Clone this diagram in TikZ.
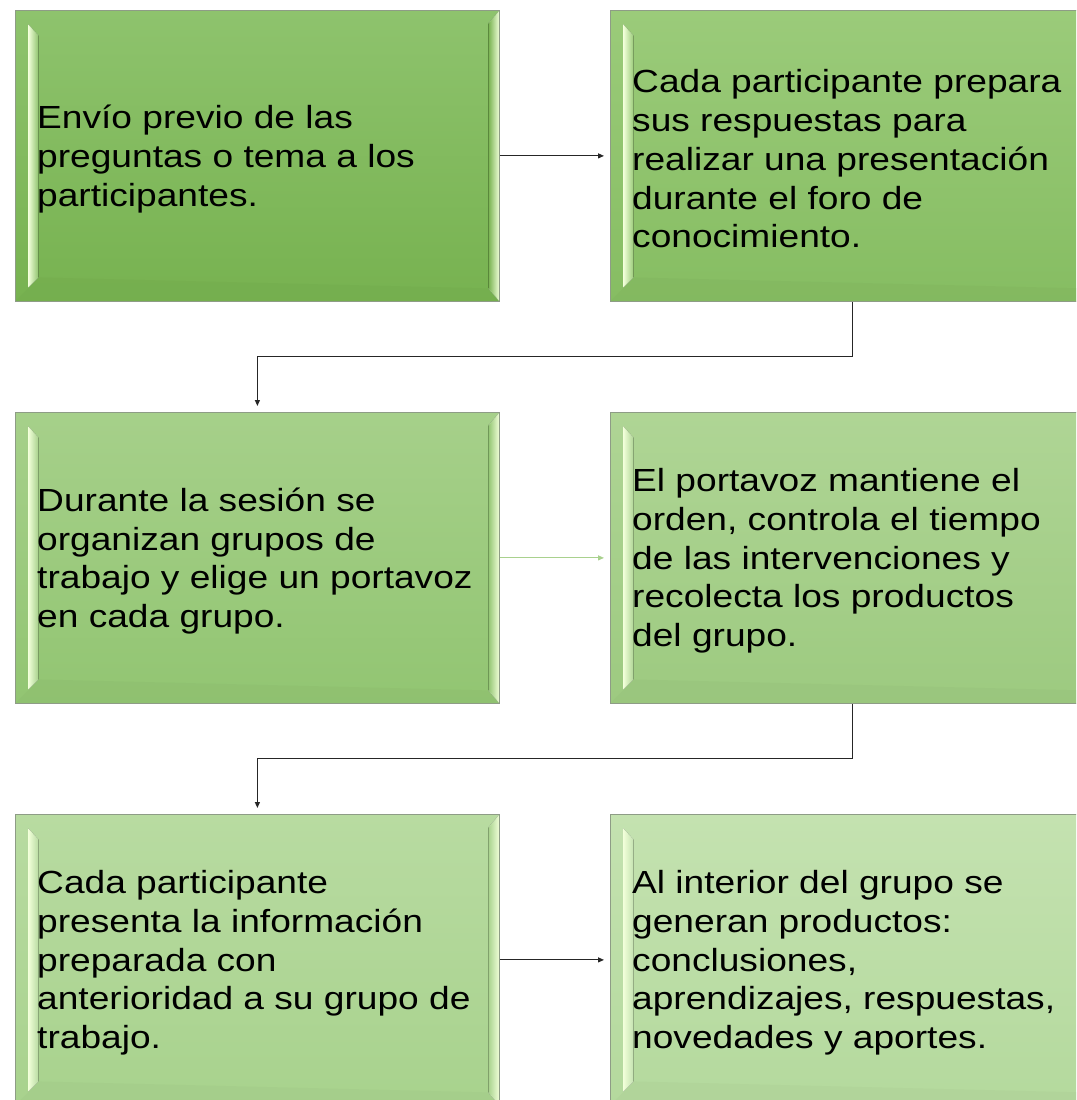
\documentclass[tikz,border=0pt]{standalone}
\usepackage{fontspec}
\newfontfamily\boxfont[FakeStretch=1.16]{Liberation Sans}
\usetikzlibrary{arrows.meta,calc}
\definecolor{hlc}{HTML}{F1FFD9}
\definecolor{bordc}{HTML}{8E9C86}
\definecolor{cA1}{HTML}{8EC36D}\definecolor{cA2}{HTML}{77B250}
\definecolor{cB1}{HTML}{9BCB7A}\definecolor{cB2}{HTML}{86BD62}
\definecolor{cC1}{HTML}{A6D08A}\definecolor{cC2}{HTML}{92C572}
\definecolor{cD1}{HTML}{AFD595}\definecolor{cD2}{HTML}{9DCA80}
\definecolor{cE1}{HTML}{B8DBA1}\definecolor{cE2}{HTML}{A8D28D}
\definecolor{cF1}{HTML}{C4E2B0}\definecolor{cF2}{HTML}{B4D99D}
\definecolor{arrowgreen}{HTML}{A9D18E}
\begin{document}
\begin{tikzpicture}[x=1pt,y=1pt,
  stepbox/.style 2 args={rectangle, anchor=north west, minimum width=484pt,
    minimum height=291pt, inner sep=0pt, draw=bordc, line width=0.8pt,
    top color=#1, bottom color=#2,
    path picture={
      \coordinate (pnw) at (path picture bounding box.north west);
      \coordinate (pne) at (path picture bounding box.north east);
      \coordinate (pse) at (path picture bounding box.south east);
      \coordinate (psw) at (path picture bounding box.south west);
      \coordinate (itl) at ($(pnw)+(23,-25)$);
      \coordinate (itr) at ($(pne)+(-11,-13)$);
      \coordinate (ibr) at ($(pse)+(-11,13)$);
      \coordinate (ibl) at ($(psw)+(23,24)$);
      \fill[#2!97!black, opacity=0.6] (psw) -- (pse) -- (ibr) -- (ibl) -- cycle;
      \fill[left color=hlc, right color=#1] ($(pnw)+(13,-14)$) -- (itl) -- (ibl) -- ($(psw)+(13,14)$) -- cycle;
      \fill[left color=#2, right color=hlc] (pne) -- (itr) -- (ibr) -- (pse) -- cycle;
      \draw[#1!75!white, line width=0.5pt, opacity=0.7] ($(pnw)+(13,-14)$) -- (itl) ($(psw)+(13,14)$) -- (ibl) (pne) -- (itr) (pse) -- (ibr);
    }},
  boxtext/.style={anchor=west, align=left, inner sep=0pt, text=black,
    font=\boxfont\fontsize{32pt}{38.7pt}\selectfont},
  conn/.style={line width=1.1pt, draw=black!85, shorten >=6pt,
    -{Triangle[length=6pt,width=5pt]}}
]
\useasboundingbox (0,0) rectangle (1076,-1100);
\clip (0,0) rectangle (1076,-1100);
\fill[white] (0,0) rectangle (1076,-1100);

\node[stepbox={cA1}{cA2}] (b1) at (15,-10) {};
\node[stepbox={cB1}{cB2}] (b2) at (610,-10) {};
\node[stepbox={cC1}{cC2}] (b3) at (15,-412) {};
\node[stepbox={cD1}{cD2}] (b4) at (610,-412) {};
\node[stepbox={cE1}{cE2}] (b5) at (15,-814) {};
\node[stepbox={cF1}{cF2}] (b6) at (610,-814) {};

\node[boxtext] (t1) at ($(b1.west)+(22,-3)$) {Envío previo de las\\preguntas o tema a los\\participantes.};
\node[boxtext] (t2) at ($(b2.west)+(22,-3)$) {Cada participante prepara\\sus respuestas para\\realizar una presentación\\durante el foro de\\conocimiento.};
\node[boxtext] (t3) at ($(b3.west)+(22,-3)$) {Durante la sesión se\\organizan grupos de\\trabajo y elige un portavoz\\en cada grupo.};
\node[boxtext] (t4) at ($(b4.west)+(22,-3)$) {El portavoz mantiene el\\orden, controla el tiempo\\de las intervenciones y\\recolecta los productos\\del grupo.};
\node[boxtext] (t5) at ($(b5.west)+(22,-3)$) {Cada participante\\presenta la información\\preparada con\\anterioridad a su grupo de\\trabajo.};
\node[boxtext] (t6) at ($(b6.west)+(22,-3)$) {Al interior del grupo se\\generan productos:\\conclusiones,\\aprendizajes, respuestas,\\novedades y aportes.};

\draw[conn] (b1.east) -- (b2.west);
\draw[conn] (b2.south) -- ++(0,-55) -| (b3.north);
\draw[conn, draw=arrowgreen, fill=arrowgreen] (b3.east) -- (b4.west);
\draw[conn] (b4.south) -- ++(0,-55) -| (b5.north);
\draw[conn] (b5.east) -- (b6.west);
\end{tikzpicture}
\end{document}
